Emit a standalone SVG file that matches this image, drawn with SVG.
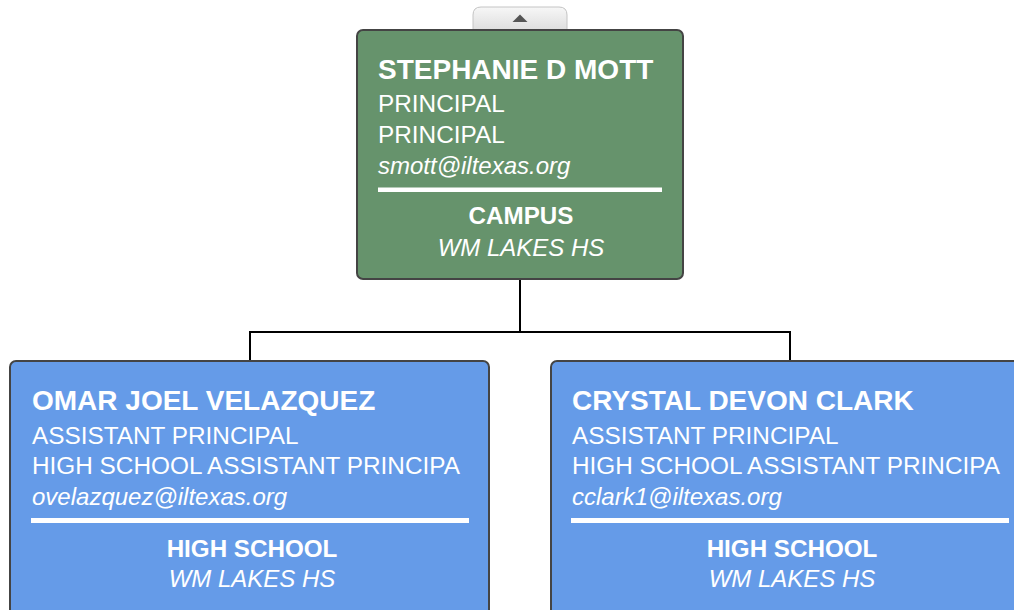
<svg xmlns="http://www.w3.org/2000/svg" width="1014" height="610" viewBox="0 0 1014 610">
<defs>
<linearGradient id="tabg" x1="0" y1="0" x2="0" y2="1">
<stop offset="0" stop-color="#f7f7f7"/>
<stop offset="1" stop-color="#dedede"/>
</linearGradient>
</defs>
<style>
.box{stroke:#444;stroke-width:2}
.green{fill:#66936c}
.blue{fill:#659be8}
text{font-family:"Liberation Sans",Arial,sans-serif;fill:#fff}
.name{font-size:28px;font-weight:bold}
.line{font-size:24.35px}
.email{font-size:24px;font-style:italic}
.dept{font-size:24.2px;font-weight:bold;text-anchor:middle}
.loc{font-size:24px;font-style:italic;text-anchor:middle}
.div{fill:#fff}
.conn{stroke:#000;stroke-width:2;fill:none}
</style>
<rect width="1014" height="610" fill="#fff"/>
<g id="connectors">
<path class="conn" d="M520,279 V332 M250,361 V332 H790 V361"/>
</g>
<g id="node-mott">
<path d="M473,30 V15 Q473,7 481,7 H559 Q567,7 567,15 V30 Z" fill="url(#tabg)" stroke="#c4c4c4" stroke-width="1"/>
<polygon points="512.5,22 520,14.5 527.5,22" fill="#555"/>
<rect class="box green" x="357" y="30" width="326" height="249" rx="6"/>
<text class="name" x="378" y="79">STEPHANIE D MOTT</text>
<text class="line" x="378" y="112">PRINCIPAL</text>
<text class="line" x="378" y="143">PRINCIPAL</text>
<text class="email" x="378" y="174">smott@iltexas.org</text>
<rect class="div" x="378" y="187.5" width="284" height="4.5"/>
<text class="dept" x="521" y="224">CAMPUS</text>
<text class="loc" x="521" y="256">WM LAKES HS</text>
</g>
<g id="node-velazquez">
<rect class="box blue" x="10" y="361" width="479" height="270" rx="6"/>
<text class="name" x="32" y="410">OMAR JOEL VELAZQUEZ</text>
<text class="line" x="32" y="444">ASSISTANT PRINCIPAL</text>
<text class="line" x="32" y="474">HIGH SCHOOL ASSISTANT PRINCIPA</text>
<text class="email" x="32" y="505">ovelazquez@iltexas.org</text>
<rect class="div" x="31" y="518" width="438" height="5"/>
<text class="dept" x="252" y="557">HIGH SCHOOL</text>
<text class="loc" x="252" y="587">WM LAKES HS</text>
</g>
<g id="node-clark">
<rect class="box blue" x="551" y="361" width="479" height="270" rx="6"/>
<text class="name" x="572" y="410">CRYSTAL DEVON CLARK</text>
<text class="line" x="572" y="444">ASSISTANT PRINCIPAL</text>
<text class="line" x="572" y="474">HIGH SCHOOL ASSISTANT PRINCIPA</text>
<text class="email" x="572" y="505">cclark1@iltexas.org</text>
<rect class="div" x="571" y="518" width="438" height="5"/>
<text class="dept" x="792" y="557">HIGH SCHOOL</text>
<text class="loc" x="792" y="587">WM LAKES HS</text>
</g>
</svg>
